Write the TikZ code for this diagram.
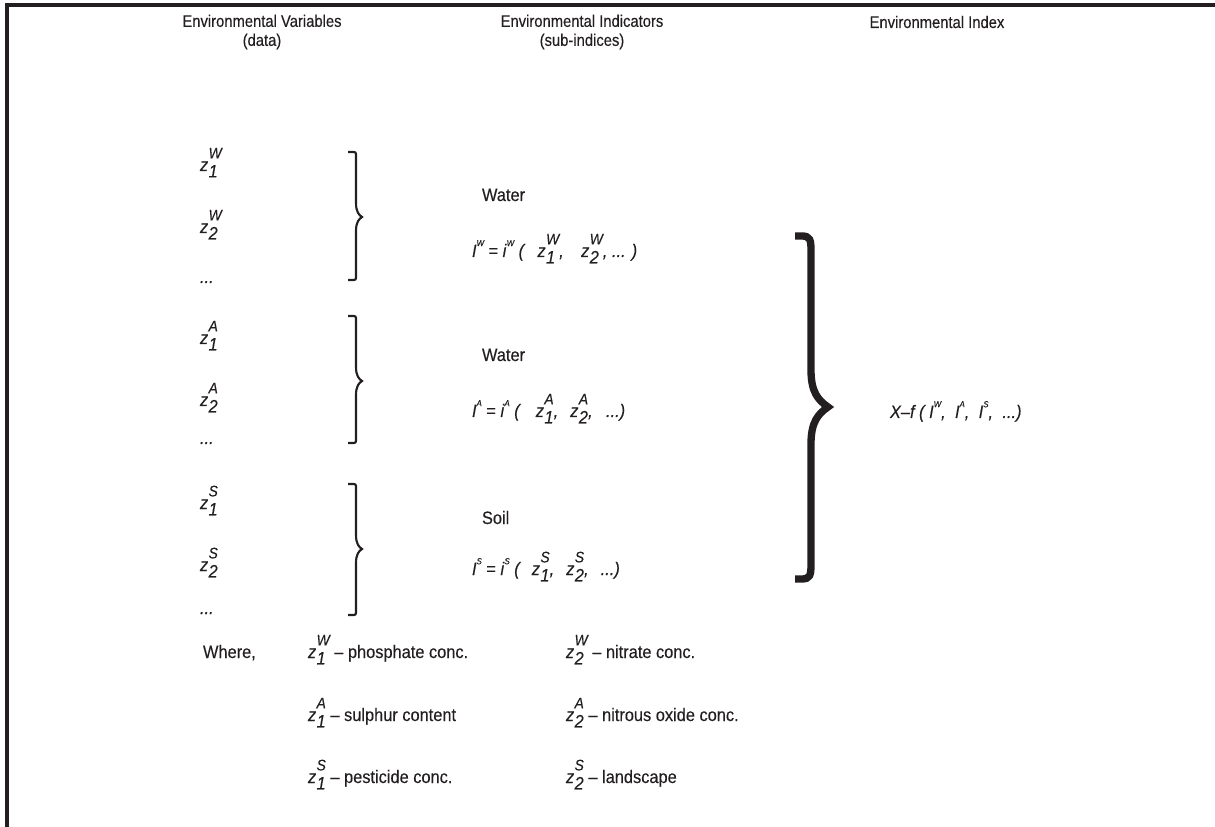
\documentclass[tikz,border=0pt]{standalone}
\usepackage{fontspec}
\setmainfont{Liberation Sans}[FakeStretch=0.91, FakeBold=0.25]
\newfontfamily\headfont{Liberation Sans}[FakeStretch=0.88, FakeBold=0.25]
\definecolor{ink}{HTML}{231F20}
\newcommand\zv[2]{\textit{z}\kern0.3pt\rlap{\raisebox{-0.36em}{\fontsize{13.5}{13.5}\selectfont\itshape #1}}\raisebox{0.7em}{\fontsize{11.5}{11.5}\selectfont\itshape #2}}
\newcommand\tsup[1]{\raisebox{0.6em}{\fontsize{6.5}{6.5}\selectfont\itshape #1}}
\newcommand\smallbrace[4]{%
\draw[brc] (#1,#2) -- ({#1+4},#2) .. controls ({#1+8},#2) and ({#1+8},#2) .. ({#1+8},{#2+5}) -- ({#1+8},{#3-14}) .. controls ({#1+8},{#3-5}) and ({#1+11},{#3-2}) .. ({#1+14},#3) .. controls ({#1+11},{#3+2}) and ({#1+8},{#3+5}) .. ({#1+8},{#3+14}) -- ({#1+8},{#4-5}) .. controls ({#1+8},#4) and ({#1+8},#4) .. ({#1+4},#4) -- (#1,#4);}
\begin{document}
\begin{tikzpicture}[x=0.75pt,y=-0.75pt,
  every node/.style={inner sep=0pt, outer sep=0pt, text=ink, font=\fontsize{13.5}{14.25}\selectfont},
  lbl/.style={anchor=base west},
  head/.style={align=center, anchor=center, font=\headfont\fontsize{12.6}{14.25}\selectfont},
  brc/.style={draw=ink, line width=1.6pt},
  bigbrc/.style={draw=ink, line width=5.5pt},
  frame/.style={draw=ink, line width=2.4pt}]
\useasboundingbox (0,0) rectangle (1215,827);
\draw[frame] (7,827) -- (7,5) -- (1215,5);

% headings
\node[head] (hv) at (262,32) {Environmental Variables\\(data)};
\node[head] (hi) at (582,32) {Environmental Indicators\\(sub-indices)};
\node[head, anchor=base] (hx) at (937,28) {Environmental Index};

% variables
\node[lbl] (z1w) at (200,171) {\zv{1}{W}};
\node[lbl] (z2w) at (200,233) {\zv{2}{W}};
\node[lbl] (dw)  at (200,283) {\textit{...}};
\node[lbl] (z1a) at (200,344) {\zv{1}{A}};
\node[lbl] (z2a) at (200,406) {\zv{2}{A}};
\node[lbl] (da)  at (200,444) {\textit{...}};
\node[lbl] (z1s) at (200,509) {\zv{1}{S}};
\node[lbl] (z2s) at (200,571) {\zv{2}{S}};
\node[lbl] (ds)  at (200,614) {\textit{...}};

% small braces
\smallbrace{348}{152}{217}{280}
\smallbrace{348}{316}{381}{443}
\smallbrace{348}{484}{549}{615}

% indicators
\node[lbl] (ww) at (482,201) {Water};
\node[lbl] (iw) at (472,257) {\textit{I}\tsup{W} = \textit{i}\tsup{W} \textit{(}\hspace{9pt}\zv{1}{W}\textit{,}\hspace{13pt}\zv{2}{W}\textit{, ... )}};
\node[lbl] (wa) at (482,361) {Water};
\node[lbl] (ia) at (472,417) {\textit{I}\tsup{A} = \textit{i}\tsup{A} \textit{(}\hspace{11pt}\zv{1}{A}\textit{,}\hspace{9pt}\zv{2}{A}\textit{,}\hspace{10pt}\textit{...)}};
\node[lbl] (so) at (482,524) {Soil};
\node[lbl] (is) at (472,575) {\textit{I}\tsup{S} = \textit{i}\tsup{S} \textit{(}\hspace{8pt}\zv{1}{S}\textit{,}\hspace{9pt}\zv{2}{S}\textit{,}\hspace{9pt}\textit{...)}};

% big brace
\draw[bigbrc] (795,236) -- (802,236) .. controls (810,236) and (811,240) .. (811,250) -- (811,370) .. controls (811,392) and (818,400) .. (828,407) .. controls (818,414) and (811,422) .. (811,444) -- (811,565) .. controls (811,575) and (810,579) .. (802,579) -- (795,579);

% index
\node[lbl] (xf) at (890,418) {\textit{X–f ( I\tsup{W},\hspace{7pt}I\tsup{A},\hspace{7pt}I\tsup{S},\hspace{7pt}...)}};

% legend
\node[lbl] (where) at (203,658) {Where,};
\node[lbl] (l1) at (308,658) {\zv{1}{W} – phosphate conc.};
\node[lbl] (l2) at (566,658) {\zv{2}{W} – nitrate conc.};
\node[lbl] (l3) at (308,721) {\zv{1}{A} – sulphur content};
\node[lbl] (l4) at (566,721) {\zv{2}{A} – nitrous oxide conc.};
\node[lbl] (l5) at (308,783) {\zv{1}{S} – pesticide conc.};
\node[lbl] (l6) at (566,783) {\zv{2}{S} – landscape};
\end{tikzpicture}
\end{document}
